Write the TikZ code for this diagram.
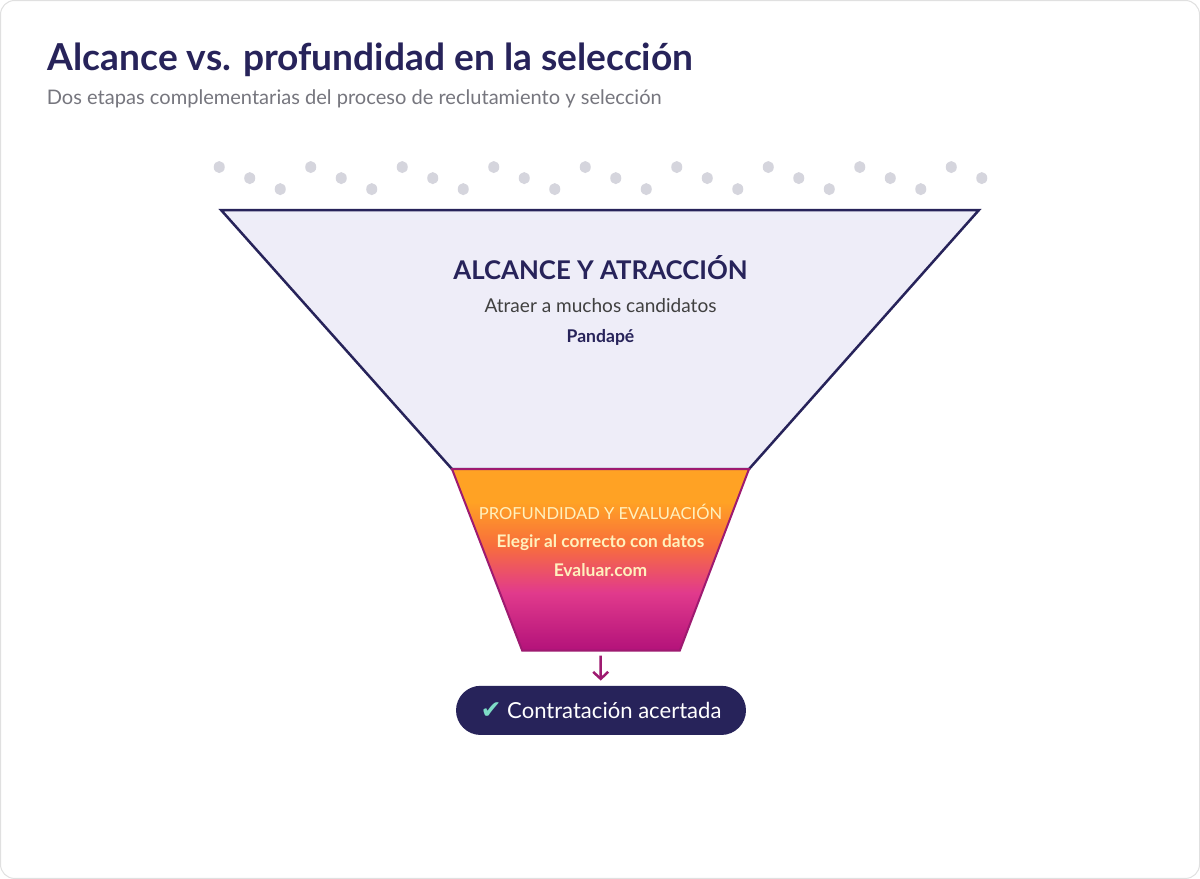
\documentclass[tikz,border=0pt]{standalone}
\usepackage{fontspec}
\setmainfont{Lato}
\newfontfamily\symfont{DejaVu Sans}
\usepackage{xcolor}
\usetikzlibrary{arrows.meta, positioning}

\definecolor{inkblue}{HTML}{27235A}
\definecolor{greytext}{HTML}{76767E}
\definecolor{dotgrey}{HTML}{D5D5DD}
\definecolor{lavender}{HTML}{EEEDF8}
\definecolor{funorange}{HTML}{FFA224}
\definecolor{funcoral}{HTML}{F86E3C}
\definecolor{funpink}{HTML}{E13A8C}
\definecolor{funmagenta}{HTML}{B3127A}
\definecolor{funedge}{HTML}{9E1A70}
\definecolor{paleyellow}{HTML}{FFF1BE}
\definecolor{checkteal}{HTML}{7EDCC6}

\pgfdeclareverticalshading{funnelgrad}{100bp}{
  color(0bp)=(funmagenta); color(25bp)=(funmagenta); color(41bp)=(funpink);
  color(54bp)=(funcoral); color(66bp)=(funorange); color(100bp)=(funorange)}

\begin{document}
\begin{tikzpicture}[
  x=1pt, y=-1pt,
  heading/.style={anchor=base west, inner sep=0pt, text=inkblue, font=\fontsize{37}{40}\selectfont\bfseries},
  subheading/.style={anchor=base west, inner sep=0pt, text=greytext, font=\fontsize{20}{24}\selectfont},
  dot/.style={fill=dotgrey, draw=none},
  label/.style={inner sep=0pt, align=center},
  arrow/.style={-{Straight Barb[length=7pt, width=15pt]}, line width=2.5pt, funedge},
  pill/.style={fill=inkblue, rounded corners=24.5pt, minimum width=289pt, minimum height=49pt, text=white, font=\fontsize{22}{26}\selectfont},
]

% Card
\draw[fill=white, draw=black!12, line width=1pt, rounded corners=14pt] (2,2) rectangle (1197,877);

% Title
\node[heading] (title) at (49,72) {Alcance vs. profundidad en la selección};
\node[subheading] (subtitle) at (48,106) {Dos etapas complementarias del proceso de reclutamiento y selección};

% Candidate dots
\foreach \i in {0,...,25} {
  \pgfmathsetmacro{\dx}{220+30.4*\i}
  \pgfmathsetmacro{\dy}{168+11*mod(\i,3)}
  \fill[dot] (\dx,\dy) ellipse (5.5 and 6);
}

% Top stage of the funnel
\draw[fill=lavender, draw=inkblue, line width=2.5pt, line join=miter] (222,211) -- (977,211) -- (748,469) -- (452,469) -- cycle;

% Bottom stage of the funnel
\shade[shading=funnelgrad] (452,469) -- (748,469) -- (679,650) -- (522,650) -- cycle;
\draw[funedge, line width=2pt, line join=miter] (452,469) -- (748,469) -- (679,650) -- (522,650) -- cycle;
\coordinate (funnelbot) at (600,650);

% Stage labels
\node[label, text=inkblue, font=\fontsize{25.7}{30}\selectfont\bfseries] (reach) at (600,268) {ALCANCE Y ATRACCIÓN};
\node[label, text=black!75, font=\fontsize{19}{22}\selectfont] (reachsub) at (600,306) {Atraer a muchos candidatos};
\node[label, text=inkblue, font=\fontsize{17.5}{20}\selectfont\bfseries] (reachtool) at (600,338) {Pandapé};

\node[label, text=paleyellow, font=\fontsize{16.5}{20}\selectfont] (depth) at (600,512) {PROFUNDIDAD Y EVALUACIÓN};
\node[label, text=paleyellow, font=\fontsize{17.2}{20}\selectfont\bfseries] (depthsub) at (600,542) {Elegir al correcto con datos};
\node[label, text=paleyellow, font=\fontsize{17.4}{20}\selectfont\bfseries] (depthtool) at (600,570) {Evaluar.com};

% Result
\node[pill] (hire) at (600.5,709.5) {{\symfont\fontsize{25}{26}\selectfont\color{checkteal}✔}\ Contratación acertada};
\draw[arrow, shorten <=5pt, shorten >=5pt] (funnelbot) -- (hire);

\end{tikzpicture}
\end{document}
